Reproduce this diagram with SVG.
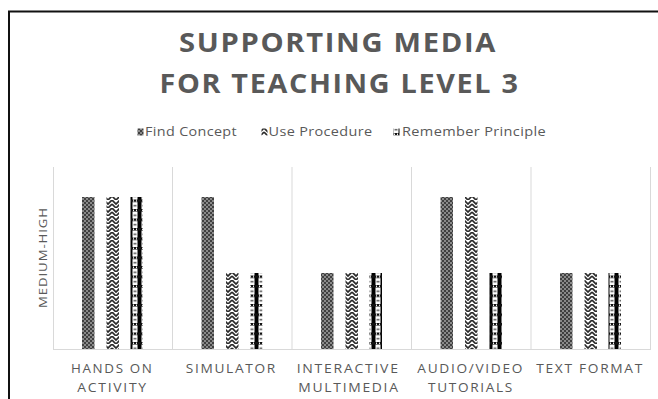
<svg xmlns="http://www.w3.org/2000/svg" width="658" height="399" viewBox="0 0 658 399">
<style>
  .txt { font-family: "Open Sans", "Liberation Sans", sans-serif; fill: #595959; }
  .title { font-size: 26px; font-weight: 700; letter-spacing: 1.5px; }
  .legend { font-size: 12px; letter-spacing: 0.3px; }
  .cat { font-size: 13px; letter-spacing: 1.6px; }
  .axis { font-size: 11.5px; letter-spacing: 0.8px; }
  .grid { stroke: #d9d9d9; stroke-width: 1; fill: none; }
  .s1 { fill: url(#pFind); }
  .s2 { fill: url(#pUse); }
  .s3 { fill: url(#pRem); }
</style>
<defs>
  <pattern id="pFind" patternUnits="userSpaceOnUse" width="4" height="4">
    <rect width="4" height="4" fill="#404040"/>
    <rect x="0" y="0" width="2" height="2" fill="#8a8a8a"/>
    <rect x="2" y="2" width="2" height="2" fill="#8a8a8a"/>
  </pattern>
  <pattern id="pUse" patternUnits="userSpaceOnUse" width="8" height="8">
    <rect width="8" height="8" fill="#ffffff"/>
    <path d="M0,0 L4,4 L8,0 M0,4 L4,8 L8,4" stroke="#2a2a2a" stroke-width="1.7" fill="none"/>
  </pattern>
  <pattern id="pRem" patternUnits="userSpaceOnUse" width="9" height="9.5">
    <rect width="9" height="9.5" fill="#ffffff"/>
    <rect x="2.5" y="0" width="4" height="9.5" fill="#000000"/>
    <rect x="0" y="0" width="9" height="2.5" fill="#111111"/>
    <rect x="1" y="0.5" width="1" height="1.5" fill="#ffffff"/>
    <rect x="7" y="0.5" width="1" height="1.5" fill="#ffffff"/>
    <rect x="0" y="5.5" width="1.5" height="1.5" fill="#555"/>
    <rect x="7.5" y="5.5" width="1.5" height="1.5" fill="#555"/>
  </pattern>
</defs>
<rect width="658" height="399" fill="#ffffff"/>
<path d="M9,401 V11.5 H661" fill="none" stroke="#111111" stroke-width="2"/>

<g id="title" class="txt title">
  <text x="179" y="52.3" textLength="318" lengthAdjust="spacingAndGlyphs">SUPPORTING MEDIA</text>
  <text x="159.5" y="92.5" textLength="360" lengthAdjust="spacingAndGlyphs">FOR TEACHING LEVEL 3</text>
</g>

<g id="legend">
  <rect class="s1" x="137.5" y="128.5" width="6" height="7"/>
  <text class="txt legend" x="145" y="136" textLength="92" lengthAdjust="spacingAndGlyphs">Find Concept</text>
  <rect class="s2" x="261.5" y="128.5" width="6" height="7"/>
  <text class="txt legend" x="268.5" y="136" textLength="104" lengthAdjust="spacingAndGlyphs">Use Procedure</text>
  <rect class="s3" x="393.5" y="128.5" width="6" height="7"/>
  <text class="txt legend" x="402" y="136" textLength="144" lengthAdjust="spacingAndGlyphs">Remember Principle</text>
</g>

<g id="gridlines">
  <path class="grid" d="M53.5,167 V349.5 M172.5,167 V349 M292,167 V349 M411.5,167 V349 M531,167 V349 M650.5,167 V349.5 M53,349.5 H651"/>
</g>

<g id="axis-label">
  <text class="txt axis" transform="translate(46.5,308) rotate(-90)" x="0" y="0" textLength="101" lengthAdjust="spacingAndGlyphs">MEDIUM-HIGH</text>
</g>

<g id="bars">
  <g id="hands-on">
    <rect class="s1" x="82" y="197" width="12.5" height="152"/>
    <rect class="s2" x="106.5" y="197" width="12.5" height="152"/>
    <rect class="s3" x="130.5" y="197" width="12.5" height="152"/>
  </g>
  <g id="simulator">
    <rect class="s1" x="201.5" y="197" width="12.5" height="152"/>
    <rect class="s2" x="226" y="273" width="12.5" height="76"/>
    <rect class="s3" x="250" y="273" width="12.5" height="76"/>
  </g>
  <g id="interactive">
    <rect class="s1" x="321" y="273" width="12.5" height="76"/>
    <rect class="s2" x="345.5" y="273" width="12.5" height="76"/>
    <rect class="s3" x="369.5" y="273" width="12.5" height="76"/>
  </g>
  <g id="audio-video">
    <rect class="s1" x="440.5" y="197" width="12.5" height="152"/>
    <rect class="s2" x="465" y="197" width="12.5" height="152"/>
    <rect class="s3" x="489.5" y="273" width="12.5" height="76"/>
  </g>
  <g id="text-format">
    <rect class="s1" x="560" y="273" width="12.5" height="76"/>
    <rect class="s2" x="584.5" y="273" width="12.5" height="76"/>
    <rect class="s3" x="608.5" y="273" width="12.5" height="76"/>
  </g>
</g>

<g id="category-labels" class="txt cat">
  <text x="71" y="372.5" textLength="82.5" lengthAdjust="spacingAndGlyphs">HANDS ON</text>
  <text x="77.3" y="391.7" textLength="70.5" lengthAdjust="spacingAndGlyphs">ACTIVITY</text>
  <text x="185.7" y="372.5" textLength="91.3" lengthAdjust="spacingAndGlyphs">SIMULATOR</text>
  <text x="296.7" y="372.5" textLength="103" lengthAdjust="spacingAndGlyphs">INTERACTIVE</text>
  <text x="298.3" y="391.7" textLength="101.4" lengthAdjust="spacingAndGlyphs">MULTIMEDIA</text>
  <text x="417.3" y="372.5" textLength="106.7" lengthAdjust="spacingAndGlyphs">AUDIO/VIDEO</text>
  <text x="428" y="391.7" textLength="86" lengthAdjust="spacingAndGlyphs">TUTORIALS</text>
  <text x="536.3" y="372.5" textLength="107.7" lengthAdjust="spacingAndGlyphs">TEXT FORMAT</text>
</g>
</svg>
